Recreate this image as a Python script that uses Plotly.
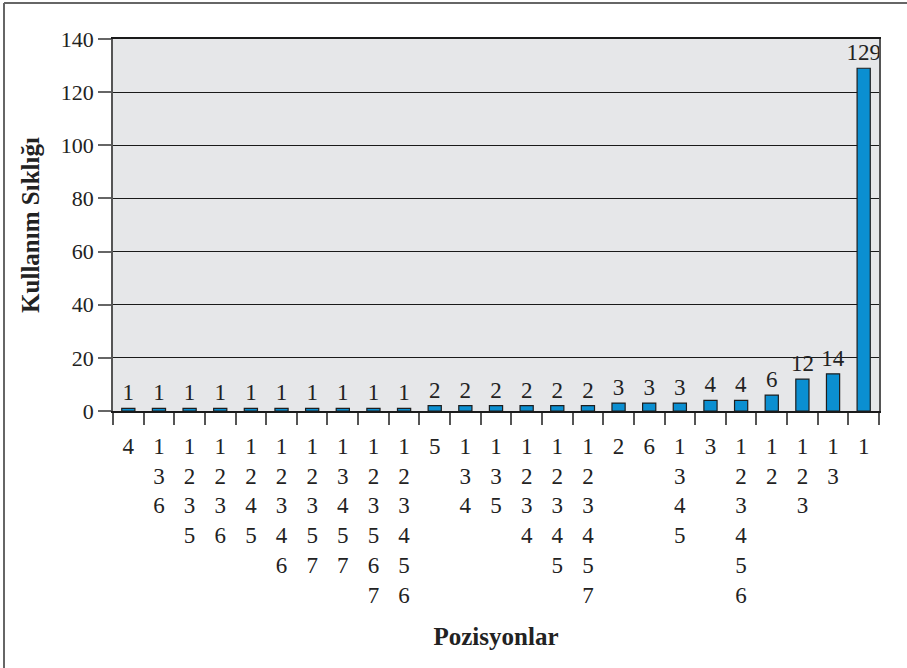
import plotly.graph_objects as go

positions = ["4", "1 3 6", "1 2 3 5", "1 2 3 6", "1 2 4 5", "1 2 3 4 6",
             "1 2 3 5 7", "1 3 4 5 7", "1 2 3 5 6 7", "1 2 3 4 5 6",
             "5", "1 3 4", "1 3 5", "1 2 3 4", "1 2 3 4 5", "1 2 3 4 5 7",
             "2", "6", "1 3 4 5", "3", "1 2 3 4 5 6 ", "1 2", "1 2 3", "1 3", "1"]
usage = [1, 1, 1, 1, 1, 1, 1, 1, 1, 1,
         2, 2, 2, 2, 2, 2,
         3, 3, 3, 4, 4, 6, 12, 14, 129]
y_ticks = [0, 20, 40, 60, 80, 100, 120, 140]

tick_text = ["<br>".join(p.split()) for p in positions]

FONT = "Liberation Serif"
W, H = 907, 668
L, R, T, B = 113, 28, 39, 257

fig = go.Figure()
fig.add_trace(go.Bar(
    x=positions, y=usage,
    marker=dict(color="#0b8fd1", line=dict(color="#1e1e1e", width=1.2)),
    text=[str(v) for v in usage], textposition="outside",
    textfont=dict(family=FONT, size=23, color="#222222"),
    constraintext="none",
    cliponaxis=False,
))

pw = W - L - R
ph = H - T - B
def px(x):
    return (x - L) / pw
def py(y):
    return (H - B - y) / ph

fig.update_layout(
    width=W, height=H,
    margin=dict(l=L, r=R, t=T, b=B),
    paper_bgcolor="white", plot_bgcolor="#e6e7e9",
    bargap=0.57, showlegend=False,
    font=dict(family=FONT, size=22, color="#222222"),
    xaxis=dict(
        type="category", tickmode="array", tickvals=positions, ticktext=tick_text,
        tickson="boundaries", ticks="outside", ticklen=12, tickcolor="#555555",
        tickwidth=1.5, showgrid=False, showline=True, linecolor="#1a1a1a",
        linewidth=2, mirror=True, tickangle=0, ticklabelstandoff=13,
        tickfont=dict(family=FONT, size=23, color="#222222"),
        title=dict(text="<b>Pozisyonlar</b>", font=dict(family=FONT, size=25, color="#222222"),
                   standoff=20),
        automargin=False,
    ),
    yaxis=dict(
        range=[0, 140], tickmode="array", tickvals=y_ticks,
        ticks="outside", ticklen=13, tickcolor="#666666", tickwidth=1.5,
        showgrid=True, gridcolor="#1a1a1a", gridwidth=1,
        showline=True, linecolor="#555555", linewidth=1.5, mirror=True,
        zeroline=False,
        tickfont=dict(family=FONT, size=22, color="#222222"),
        title=dict(text="<b>Kullanım Sıklığı</b>", font=dict(family=FONT, size=25, color="#222222"),
                   standoff=14),
        automargin=False,
    ),
    shapes=[
        dict(type="line", xref="paper", yref="paper", x0=px(4), x1=px(4), y0=py(3), y1=py(H),
             line=dict(color="#666666", width=2)),
        dict(type="line", xref="paper", yref="paper", x0=px(4), x1=px(W), y0=py(3), y1=py(3),
             line=dict(color="#666666", width=2)),
    ],
)

fig.write_html("out.html", config={"displayModeBar": False},
               post_script="document.body.style.margin='0';")
